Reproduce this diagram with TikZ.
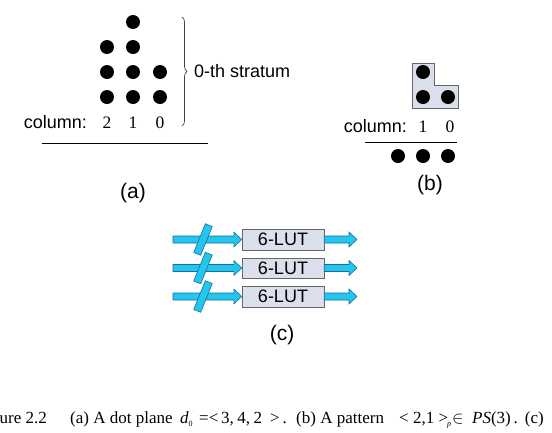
\documentclass[tikz,border=0pt]{standalone}
\usepackage{fontspec}
\setmainfont{Liberation Serif}
\setsansfont{Liberation Sans}
\usetikzlibrary{positioning,calc,decorations.pathreplacing}
\definecolor{lutfill}{HTML}{DCE0EC}
\definecolor{wirecyan}{HTML}{22C6EE}
\definecolor{wireedge}{HTML}{1A6E9A}
\definecolor{patfill}{HTML}{DAE0EB}

% fat horizontal arrow between two named points
\newcommand{\fatarrow}[2]{%
  \draw[fatarr] ($(#1)+(0,-3.5)$) -- ($(#2)+(-8,-3.5)$) -- ($(#2)+(-8,-7.5)$) -- (#2)
    -- ($(#2)+(-8,7.5)$) -- ($(#2)+(-8,3.5)$) -- ($(#1)+(0,3.5)$) -- cycle;}
% small lowered index for the caption
\newcommand{\lowidx}[1]{\raisebox{-3.5pt}{\fontsize{8}{8}\selectfont #1}}

\begin{document}
\begin{tikzpicture}[x=1pt, y=-1pt,
  dot/.style={circle, fill=black, inner sep=0pt, minimum size=14pt},
  lbl/.style={font=\sffamily\fontsize{18}{20}\selectfont, inner sep=0pt},
  num/.style={font=\fontsize{17.5}{20}\selectfont, inner sep=0pt},
  tag/.style={font=\sffamily\fontsize{21}{24}\selectfont, inner sep=0pt},
  captxt/.style={font=\fontsize{17}{20}\selectfont, inner sep=0pt, anchor=base west},
  lut/.style={draw=black!60, fill=lutfill, minimum width=82pt, minimum height=20.5pt, inner sep=0pt, font=\sffamily\fontsize{18}{20}\selectfont},
  fatarr/.style={draw=wireedge, fill=wirecyan, line width=0.6pt},
  bus/.style={draw=wireedge, fill=wirecyan, line width=0.6pt, minimum width=31pt, minimum height=7.5pt, inner sep=0pt, rotate=68}
]
  \useasboundingbox (0,0) rectangle (552,432);
  \clip (0,0) rectangle (552,432);

  % (a) dot plane
  \foreach \c/\x/\n in {2/107/3, 1/133/4, 0/160/2}
    \foreach \r in {1,...,\n}
      \node[dot] (a\c\r) at (\x, {122-25*\r}) {};
  \node[lbl, anchor=base east] (acol) at (87,128) {column:};
  \node[num, anchor=base] (ac2) at (107,128) {2};
  \node[num, anchor=base] (ac1) at (133,128) {1};
  \node[num, anchor=base] (ac0) at (160,128) {0};
  \draw[line width=0.8pt] (42,143) -- (208,143);
  \draw[black!75, line width=0.7pt, decorate, decoration={brace, amplitude=5pt}] (182,17) -- (182,126);
  \node[lbl, anchor=west] (strat) at (194,71) {0-th stratum};
  \node[tag] (taga) at (133,193) {(a)};

  % (b) pattern
  \draw[fill=patfill, draw=black!60, line width=0.7pt] (412,63) -- (434,63) -- (434,85) -- (458,85) -- (458,108) -- (412,108) -- cycle;
  \node[dot] (p1) at (423,72) {};
  \node[dot] (p2) at (423,97) {};
  \node[dot] (p3) at (448,97) {};
  \node[lbl, anchor=base east] (bcol) at (407,132) {column:};
  \node[num, anchor=base] (bc1) at (423,132) {1};
  \node[num, anchor=base] (bc0) at (450,132) {0};
  \draw[line width=0.8pt] (365,142) -- (457,142);
  \foreach \i/\x in {1/398, 2/423, 3/448}
    \node[dot] (q\i) at (\x,156) {};
  \node[tag] (tagb) at (430,185) {(b)};

  % (c) LUT row
  \foreach \i/\y in {1/239.5, 2/268, 3/296.5} {
    \node[lut] (lut\i) at (283,\y) {6-LUT};
    \coordinate (in\i) at (173,\y);
    \coordinate (out\i) at (357,\y);
    \fatarrow{in\i}{lut\i.west}
    \fatarrow{lut\i.east}{out\i}
    \node[bus] (bus\i) at (203,\y) {};
  }
  \node[tag] (tagc) at (282,335) {(c)};

  % caption
  \node[captxt, anchor=base east] (fig) at (47,423) {Figure 2.2};
  \node[captxt] (capa) at (70,423) {(a) A dot plane};
  \node[captxt] (capd) at (180,423) {\textit{d}\lowidx{0}};
  \node[captxt] (capv) at (199,423) {=<};
  \node[captxt] (capn) at (221,423) {3,\hspace{3.5pt}4,\hspace{3.5pt}2};
  \node[captxt] (capg) at (270,423) {>\,.};
  \node[captxt] (capb) at (296,423) {(b) A pattern};
  \node[captxt] (capp) at (399,423) {< 2,1 >};
  \node[captxt] (capi) at (447,423) {\lowidx{\textit{p}}};
  \node[captxt] (capin) at (452,423) {$\in$};
  \node[captxt] (caps) at (472,423) {\textit{PS}(3)\,.\hspace{7pt}(c)};
\end{tikzpicture}
\end{document}
